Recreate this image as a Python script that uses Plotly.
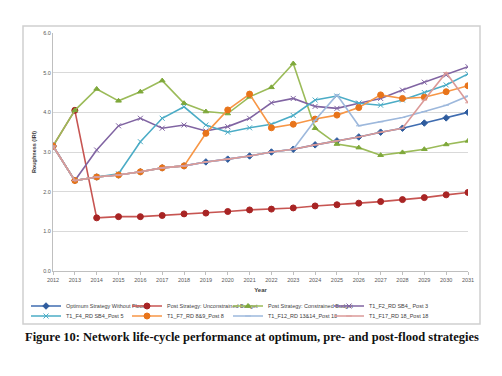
import plotly.graph_objects as go

years = list(range(2012, 2032))

optimum = [3.15, 2.28, 2.37, 2.42, 2.5, 2.6, 2.65, 2.75, 2.82, 2.9, 3.0, 3.07, 3.18, 3.28, 3.38, 3.5, 3.6, 3.73, 3.86, 4.0]
unconstrained = [3.15, 4.05, 1.34, 1.37, 1.37, 1.4, 1.44, 1.46, 1.5, 1.54, 1.56, 1.59, 1.64, 1.67, 1.71, 1.75, 1.8, 1.85, 1.92, 1.98]
constrained = [3.15, 4.05, 4.59, 4.29, 4.52, 4.8, 4.23, 4.02, 3.97, 4.39, 4.63, 5.23, 3.6, 3.2, 3.11, 2.92, 2.99, 3.07, 3.19, 3.28]
f2_post3 = [3.15, 2.28, 3.05, 3.66, 3.85, 3.6, 3.68, 3.53, 3.64, 3.85, 4.24, 4.35, 4.15, 4.1, 4.23, 4.35, 4.56, 4.76, 4.94, 5.15]
f4_post5 = [3.15, 2.28, 2.37, 2.45, 3.26, 3.85, 4.14, 3.68, 3.5, 3.61, 3.7, 3.92, 4.31, 4.41, 4.23, 4.18, 4.31, 4.5, 4.69, 4.97]
f7_post8 = [3.15, 2.28, 2.37, 2.42, 2.5, 2.6, 2.65, 3.47, 4.06, 4.46, 3.61, 3.7, 3.83, 3.93, 4.12, 4.44, 4.35, 4.38, 4.52, 4.67]
f12_post13 = [3.15, 2.28, 2.37, 2.42, 2.5, 2.6, 2.65, 2.75, 2.82, 2.9, 3.0, 3.07, 3.8, 4.44, 3.66, 3.76, 3.87, 4.02, 4.18, 4.41]
f17_post18 = [3.15, 2.28, 2.37, 2.42, 2.5, 2.6, 2.65, 2.75, 2.82, 2.9, 3.0, 3.07, 3.18, 3.28, 3.38, 3.5, 3.6, 4.31, 5.0, 4.24]

names = [
    "Optimum Strategy Without Flood",
    "Post Strategy: Unconstrained Budget",
    "Post Strategy: Constrained Budget",
    "T1_F2_RD SB4_ Post 3",
    "T1_F4_RD SB4_Post 5",
    "T1_F7_RD 8&9_Post 8",
    "T1_F12_RD 13&14_Post 13",
    "T1_F17_RD 18_Post 18",
]
series = [optimum, unconstrained, constrained, f2_post3, f4_post5, f7_post8, f12_post13, f17_post18]
line_colors = ["#3F6CB0", "#C75552", "#9BBB59", "#8064A2", "#4BACC6", "#F79646", "#9DB8DC", "#DB9A98"]
marker_colors = ["#2F5C9E", "#A82424", "#7EA83A", "#8064A2", "#4BACC6", "#E8741A", "#9DB8DC", "#DB9A98"]
symbols = ["diamond", "circle", "triangle-up", "x-thin-open", "x-thin-open", "circle", "line-ew-open", "line-ew-open"]
msizes = [5, 6, 5, 5, 5, 6, 4, 4]
legend_ids = ["legend", "legend", "legend", "legend", "legend2", "legend2", "legend2", "legend2"]

fig = go.Figure()
for n, s, lc, mc, sym, ms, lg in zip(names, series, line_colors, marker_colors, symbols, msizes, legend_ids):
    fig.add_trace(go.Scatter(
        x=years, y=s, name=n, mode="lines+markers", legend=lg,
        line=dict(color=lc, width=1.6),
        marker=dict(symbol=sym, size=ms, color=mc, line=dict(color=mc, width=1)),
    ))

# page body has an 8px offset; work in image pixels and convert
OFF = 8
W, H = 502 - OFF, 376 - OFF
L, R, T, B = 53 - OFF, 502 - 468, 33 - OFF, 376 - 271
pw, ph = W - L - R, H - T - B

def px(x):
    return (x - OFF - L) / pw

def py(y):
    return (H - B - (y - OFF)) / ph

fig.add_shape(type="rect", xref="paper", yref="paper",
              x0=px(23), x1=px(480), y0=py(324), y1=py(26),
              line=dict(color="#D0D0D0", width=1.5), fillcolor="rgba(0,0,0,0)", layer="below")

fig.add_annotation(text="<b>Figure 10: Network life-cycle performance at optimum, pre- and post-flood strategies</b>",
                   xref="paper", yref="paper", x=px(252), y=py(337), showarrow=False,
                   font=dict(family="Liberation Serif", size=12.5, color="#111111"),
                   xanchor="center", yanchor="middle")

leg_common = dict(orientation="h", xanchor="left", yanchor="middle",
                  font=dict(size=5.5, color="#404040"),
                  entrywidth=56, entrywidthmode="pixels", itemwidth=30,
                  tracegroupgap=0, bgcolor="rgba(0,0,0,0)", borderwidth=0)

fig.update_layout(
    width=W, height=H,
    margin=dict(l=L, r=R, t=T, b=B, autoexpand=False),
    paper_bgcolor="white", plot_bgcolor="white",
    font=dict(family="Liberation Sans", size=6, color="#595959"),
    showlegend=True,
    legend=dict(x=px(26), y=py(306), **leg_common),
    legend2=dict(x=px(26), y=py(316), **leg_common),
    xaxis=dict(range=[2012, 2031], tickmode="array", tickvals=years,
               ticktext=[str(y) for y in years], showgrid=False,
               showline=True, linecolor="#BFBFBF", linewidth=1,
               ticks="outside", ticklen=3, tickcolor="#BFBFBF",
               tickfont=dict(size=5.5, color="#595959"),
               title=dict(text="<b>Year</b>", font=dict(size=6, color="#404040"), standoff=6),
               zeroline=False),
    yaxis=dict(range=[0, 6], dtick=1, tickformat=".1f", showgrid=True,
               gridcolor="#D9D9D9", gridwidth=1, showline=True, linecolor="#BFBFBF",
               tickfont=dict(size=5.5, color="#595959"),
               title=dict(text="<b>Roughness (IRI)</b>", font=dict(size=5.5, color="#404040"), standoff=6),
               zeroline=False),
)

fig.write_html("out.html")
